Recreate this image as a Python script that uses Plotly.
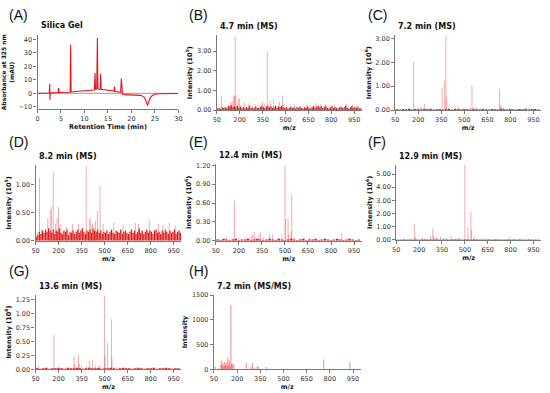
import plotly.graph_objects as go

# ---------------- data ----------------
# (A) chromatogram, Silica Gel, absorbance at 325 nm (mAU)
chrom_t = [0, 2.5, 2.6, 2.65, 2.7, 2.8, 4.4, 4.5, 4.6, 6.95, 7.05, 7.15, 7.3, 8, 9, 10, 11,
           12.1, 12.25, 12.35, 12.6, 12.75, 12.85, 13.0, 13.35, 13.45, 13.55, 14, 15, 16,
           16.3, 16.4, 16.5, 17, 17.7, 17.85, 17.95, 18.1, 18.5, 19, 20, 21, 22, 22.8,
           23.2, 23.45, 23.8, 24.3, 25, 26, 30]
chrom_y = [0, 0.2, 7, -5, 0.5, 0.3, 0.5, 4, 0.6, 0.8, 36, 1.2, 1.0, 1.3, 1.6, 1.8, 2.2,
           2.5, 15, 3, 3, 41, 3.5, 3, 3, 14.5, 3, 2.8, 2.2, 1.8,
           1.6, 5, 1.5, 1.2, 0.8, 11, 0.5, -0.5, -1, -1, -1.2, -1.2, -1.5, -3,
           -6.5, -9, -5, -2, -0.7, -0.3, -0.1]
blank_t = [0, 30]
blank_y = [0, 0]

# noise grids (m/z)
grid10 = list(range(55, 1000, 10))
grid20 = list(range(60, 1000, 20))

# (B) 4.7 min (MS)
B_mz = [80, 140, 150, 160, 165, 170, 175, 190, 200, 230, 260, 300, 350, 360, 380, 400, 420, 460, 480, 490,
        560, 640, 700, 730, 760, 820, 900, 940]
B_int = [0.72, 0.4, 0.45, 0.68, 0.72, 3.75, 0.75, 0.55, 0.6, 0.4, 0.35, 0.3, 0.4, 0.35, 3.0, 0.45, 0.55, 0.42, 0.72, 0.3,
         0.3, 0.28, 0.35, 0.3, 0.32, 0.3, 0.32, 0.28]
B_noise = [0.08, 0.12, 0.07, 0.14, 0.10, 0.16, 0.09, 0.22, 0.18, 0.25, 0.14, 0.20, 0.16, 0.22, 0.12, 0.18,
           0.10, 0.14, 0.08, 0.16, 0.12, 0.22, 0.10, 0.14, 0.08, 0.18, 0.12, 0.10, 0.16, 0.22, 0.14, 0.10,
           0.18, 0.22, 0.14, 0.20, 0.10, 0.14, 0.22, 0.12, 0.18, 0.16, 0.22, 0.14, 0.10, 0.16, 0.08, 0.12,
           0.18, 0.10, 0.14, 0.08, 0.16, 0.10, 0.20, 0.12, 0.08, 0.14, 0.10, 0.18, 0.12, 0.08, 0.16, 0.22,
           0.10, 0.18, 0.22, 0.14, 0.20, 0.10, 0.16, 0.22, 0.12, 0.08, 0.14, 0.20, 0.10, 0.16, 0.12, 0.08,
           0.14, 0.18, 0.10, 0.16, 0.22, 0.12, 0.08, 0.14, 0.20, 0.10, 0.16, 0.12, 0.18, 0.08, 0.10]

# (C) 7.2 min (MS)
C_mz = [100, 150, 170, 200, 215, 225, 240, 255, 355, 372, 380, 385, 395, 440, 460, 470, 490, 540, 550, 560,
        580, 600, 700, 730, 735, 745, 755, 850, 920, 950]
C_int = [0.05, 0.05, 2.02, 0.08, 0.1, 0.12, 0.26, 0.1, 0.92, 1.22, 3.12, 0.55, 0.1, 0.15, 0.15, 0.08, 0.05, 0.1, 1.05, 0.08,
         0.12, 0.05, 0.05, 0.88, 0.2, 0.15, 0.1, 0.04, 0.05, 0.05]
C_noise = [0.03, 0.02, 0.04, 0.03, 0.05, 0.02, 0.04, 0.03, 0.02, 0.04, 0.03, 0.05, 0.02, 0.03, 0.04, 0.02,
           0.03, 0.05, 0.02, 0.04, 0.03, 0.02, 0.04, 0.03, 0.02, 0.05, 0.03, 0.02, 0.04, 0.03, 0.02, 0.04,
           0.03, 0.02, 0.05, 0.03, 0.02, 0.04, 0.03, 0.02, 0.04, 0.03, 0.05, 0.02, 0.03, 0.04, 0.02]

# (D) 8.2 min (MS)
D_mz = [60, 75, 90, 130, 145, 155, 165, 180, 190, 200, 215, 250, 290, 330, 380, 400, 410, 420, 440, 452, 470,
        490, 560, 620, 700, 720, 790, 850, 880, 920, 960]
D_int = [0.15, 1.12, 0.2, 0.4, 0.55, 0.6, 1.23, 0.3, 0.4, 0.6, 0.3, 0.25, 0.3, 0.3, 1.33, 0.4, 0.38, 0.3, 0.35, 0.53, 0.98,
         0.3, 0.33, 0.28, 0.32, 0.3, 0.38, 0.3, 0.28, 0.32, 0.28]
D_noise = [0.06, 0.10, 0.16, 0.12, 0.18, 0.14, 0.20, 0.16, 0.22, 0.18, 0.14, 0.20, 0.12, 0.18, 0.16, 0.22,
           0.14, 0.12, 0.18, 0.16, 0.20, 0.10, 0.16, 0.14, 0.18, 0.12, 0.16, 0.20, 0.14, 0.18, 0.22, 0.16,
           0.12, 0.18, 0.16, 0.20, 0.14, 0.22, 0.18, 0.16, 0.20, 0.14, 0.18, 0.12, 0.16, 0.14, 0.18, 0.12,
           0.16, 0.20, 0.14, 0.12, 0.18, 0.16, 0.14, 0.20, 0.12, 0.16, 0.18, 0.14, 0.12, 0.16, 0.20, 0.14,
           0.18, 0.12, 0.16, 0.22, 0.14, 0.18, 0.12, 0.16, 0.20, 0.14, 0.18, 0.16, 0.12, 0.18, 0.20, 0.14,
           0.16, 0.12, 0.18, 0.14, 0.20, 0.16, 0.12, 0.18, 0.14, 0.16, 0.20, 0.12, 0.16, 0.18, 0.14]

# (E) 12.4 min (MS)
E_mz = [70, 120, 160, 170, 200, 250, 280, 290, 300, 310, 330, 340, 360, 400, 420, 450, 480, 500, 505, 520, 525,
        540, 545, 560, 600, 660, 870, 920]
E_int = [0.03, 0.05, 0.04, 0.64, 0.04, 0.05, 0.08, 0.1, 0.14, 0.06, 0.1, 0.14, 0.05, 0.1, 0.1, 0.05, 0.1, 1.2, 0.35, 0.35, 0.1,
         0.15, 0.73, 0.05, 0.04, 0.05, 0.12, 0.03]
E_noise = [0.02, 0.01, 0.03, 0.02, 0.01, 0.02, 0.03, 0.01, 0.02, 0.02, 0.03, 0.01, 0.02, 0.03, 0.02, 0.01,
           0.02, 0.03, 0.02, 0.01, 0.03, 0.02, 0.01, 0.02, 0.03, 0.02, 0.01, 0.02, 0.03, 0.01, 0.02, 0.02,
           0.03, 0.01, 0.02, 0.03, 0.02, 0.01, 0.02, 0.03, 0.02, 0.01, 0.02, 0.03, 0.02, 0.01, 0.02]

# (F) 12.9 min (MS)
F_mz = [170, 175, 250, 275, 290, 295, 310, 340, 360, 380, 410, 440, 470, 500, 520, 540, 545, 565, 600, 650, 795, 860]
F_int = [1.15, 0.2, 0.1, 0.3, 0.88, 0.35, 0.2, 0.25, 0.1, 0.12, 0.28, 0.12, 0.1, 5.7, 0.92, 2.1, 0.78, 0.2, 0.08, 0.06, 0.22, 0.05]
F_noise = [0.04, 0.03, 0.06, 0.04, 0.05, 0.03, 0.06, 0.04, 0.08, 0.05, 0.04, 0.06, 0.05, 0.07, 0.04, 0.06,
           0.05, 0.04, 0.06, 0.05, 0.08, 0.04, 0.06, 0.05, 0.04, 0.06, 0.05, 0.04, 0.06, 0.03, 0.05, 0.04,
           0.06, 0.05, 0.04, 0.03, 0.05, 0.04, 0.06, 0.03, 0.05, 0.04, 0.03, 0.05, 0.04, 0.03, 0.04]

# (G) 13.6 min (MS)
G_mz = [70, 120, 170, 200, 300, 305, 330, 335, 350, 380, 400, 420, 440, 470, 500, 502, 520, 545, 548, 560, 600]
G_int = [0.05, 0.03, 0.62, 0.03, 0.22, 0.1, 0.26, 0.1, 0.07, 0.05, 0.15, 0.17, 0.07, 0.08, 1.32, 0.25, 0.48, 0.9, 0.22, 0.04, 0.03]
G_noise = [0.02, 0.01, 0.02, 0.03, 0.01, 0.02, 0.02, 0.03, 0.02, 0.01, 0.03, 0.02, 0.02, 0.03, 0.02, 0.01,
           0.02, 0.03, 0.02, 0.02, 0.03, 0.01, 0.02, 0.02, 0.03, 0.02, 0.01, 0.02, 0.03, 0.02, 0.02, 0.01,
           0.02, 0.03, 0.02, 0.01, 0.02, 0.02, 0.03, 0.01, 0.02, 0.02, 0.03, 0.02, 0.01, 0.02, 0.02]

# (H) 7.2 min (MS/MS)
H_mz = [60, 80, 95, 100, 105, 110, 115, 120, 125, 130, 135, 140, 145, 150, 155, 160, 165, 170, 180,
        260, 290, 300, 310, 330, 340, 390, 760, 930]
H_int = [50, 20, 100, 180, 80, 120, 60, 150, 90, 140, 70, 240, 100, 180, 60, 1300, 120, 100, 110,
         130, 60, 130, 40, 70, 50, 50, 200, 150]

ms_titles = ["4.7 min (MS)", "7.2 min (MS)", "8.2 min (MS)", "12.4 min (MS)",
             "12.9 min (MS)", "13.6 min (MS)", "7.2 min (MS/MS)"]
ms_ylabels = ["Intensity (10<sup>5</sup>)", "Intensity (10<sup>6</sup>)", "Intensity (10<sup>5</sup>)",
              "Intensity (10<sup>6</sup>)", "Intensity (10<sup>6</sup>)", "Intensity (10<sup>6</sup>)", "Intensity"]
ms_yticks = [[0, 1, 2, 3], [0, 1, 2, 3], [0, 0.5, 1.0], [0, 0.3, 0.6, 0.9, 1.2],
             [0, 1, 2, 3, 4, 5], [0, 0.25, 0.5, 0.75, 1.0, 1.25], [0, 500, 1000, 1500]]
ms_ymax = [3.8, 3.13, 1.35, 1.22, 5.68, 1.34, 1510]
mz_ticks = [50, 200, 350, 500, 650, 800, 950]
panel_letters = ["(A)", "(B)", "(C)", "(D)", "(E)", "(F)", "(G)", "(H)"]

# ---------------- layout geometry (pixels) ----------------
W, H = 550, 393
boxes = [  # x0, x1, ytop, ybottom
    (34, 177, 33, 108),
    (216, 363, 33, 109),
    (397, 545, 33, 109),
    (32, 180, 165, 242),
    (215, 363, 164, 242),
    (398, 545, 165, 241),
    (32, 180, 297, 373),
    (213, 362, 297, 373),
]
letter_pos = [(3, 12), (186, 12), (367, 12), (3, 142), (186, 142), (367, 142), (3, 273), (186, 273)]
bar_widths = [5, 5, 5, 5, 5, 5, 7]

RED_LIGHT = "rgba(238,40,40,0.5)"
RED_DARK = "rgba(215,0,0,0.9)"
AX_COL = "#7a7a7a"
TICK_FONT = dict(family="DejaVu Sans", size=6.5, color="#333")
TITLE_FONT = dict(family="DejaVu Sans", size=6.5, color="#111")

fig = go.Figure()
layout = dict(width=W, height=H, margin=dict(l=0, r=0, t=0, b=0), showlegend=False,
              plot_bgcolor="white", paper_bgcolor="white", barmode="overlay", annotations=[])


def ax_names(i):
    s = "" if i == 0 else str(i + 1)
    return "x" + s, "y" + s, "xaxis" + s, "yaxis" + s


for i, (x0, x1, yt, yb) in enumerate(boxes):
    xr, yr, xk, yk = ax_names(i)
    common = dict(showline=True, linecolor=AX_COL, linewidth=1.2, ticks="outside", ticklen=3,
                  tickwidth=1, tickcolor=AX_COL, showgrid=False, zeroline=False, tickfont=TICK_FONT)
    layout[xk] = dict(domain=[x0 / W, x1 / W], anchor=yr, **common)
    layout[yk] = dict(domain=[1 - yb / H, 1 - yt / H], anchor=xr, **common)
    lx, ly = letter_pos[i]
    layout["annotations"].append(dict(text=panel_letters[i], x=lx / W, y=1 - ly / H, xref="paper", yref="paper",
                                      xanchor="left", yanchor="middle", showarrow=False,
                                      font=dict(family="Liberation Sans", size=14, color="#111")))

# panel A
fig.add_trace(go.Scatter(x=blank_t, y=blank_y, mode="lines", line=dict(color="#b0b0b0", width=1.2),
                         xaxis="x", yaxis="y"))
fig.add_trace(go.Scatter(x=chrom_t, y=chrom_y, mode="lines", line=dict(color="#e8141c", width=1.1),
                         xaxis="x", yaxis="y"))
layout["xaxis"].update(range=[0, 30], tickvals=[0, 5, 10, 15, 20, 25, 30],
                       title=dict(text="<b>Retention Time (min)</b>", font=TITLE_FONT, standoff=0))
layout["yaxis"].update(range=[-11.7, 43], tickvals=[-10, 0, 10, 20, 30, 40],
                       title=dict(text="<b>Absorbance at 325 nm<br>(mAU)</b>", font=dict(family="DejaVu Sans", size=6, color="#111"), standoff=3))
layout["annotations"].append(dict(text="<b>Silica Gel</b>", x=36 / W, y=1 - 30 / H, xref="paper", yref="paper",
                                  xanchor="left", yanchor="bottom", showarrow=False,
                                  font=dict(family="DejaVu Sans", size=8, color="#111")))

ms_data = [(B_mz, B_int, grid10, B_noise), (C_mz, C_int, grid20, C_noise), (D_mz, D_int, grid10, D_noise),
           (E_mz, E_int, grid20, E_noise), (F_mz, F_int, grid20, F_noise), (G_mz, G_int, grid20, G_noise),
           (H_mz, H_int, None, None)]

for j, (mz, inten, ng, nv) in enumerate(ms_data):
    i = j + 1
    xr, yr, xk, yk = ax_names(i)
    if ng is not None:
        step = ng[1] - ng[0]
        fig.add_trace(go.Bar(x=ng, y=nv, width=[step * 0.8] * len(ng),
                             marker=dict(color=RED_DARK, line=dict(width=0)), xaxis=xr, yaxis=yr))
    fig.add_trace(go.Bar(x=mz, y=inten, width=[bar_widths[j]] * len(mz),
                         marker=dict(color=RED_LIGHT, line=dict(width=0)), xaxis=xr, yaxis=yr))
    layout[xk].update(range=[50, 1000], tickvals=mz_ticks,
                      title=dict(text="<b>m/z</b>", font=TITLE_FONT, standoff=0))
    fmt = "d" if j == 6 else ".2f"
    layout[yk].update(range=[0, ms_ymax[j]], tickvals=ms_yticks[j], tickformat=fmt,
                      title=dict(text="<b>" + ms_ylabels[j] + "</b>", font=TITLE_FONT, standoff=3))
    x0, x1, yt, yb = boxes[i]
    layout["annotations"].append(dict(text="<b>" + ms_titles[j] + "</b>", x=(x0 + 1) / W, y=1 - (yt - 2) / H,
                                      xref="paper", yref="paper", xanchor="left", yanchor="bottom",
                                      showarrow=False, font=dict(family="DejaVu Sans", size=8, color="#111")))

fig.update_layout(**layout)
fig.write_html("out.html", config={"displayModeBar": False},
               post_script="document.body.style.margin='0px';document.body.style.padding='0px';")
